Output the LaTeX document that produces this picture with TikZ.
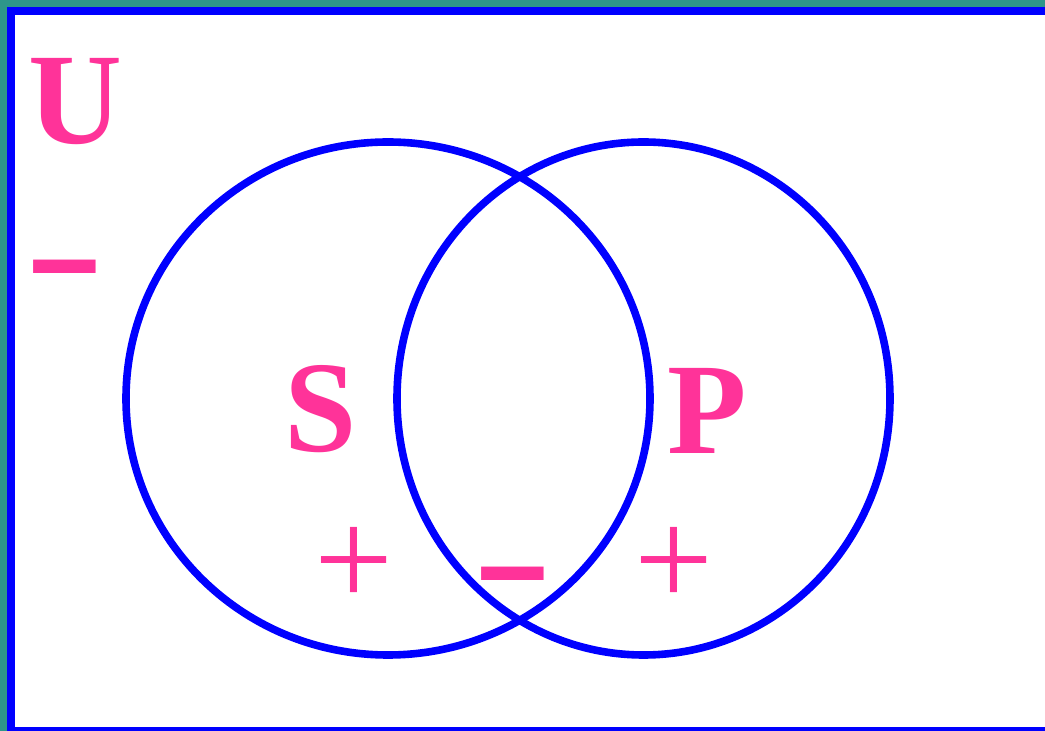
\documentclass[tikz,border=0pt]{standalone}
\usepackage{fontspec}
\setmainfont{Liberation Serif}
\usepackage{graphicx}
\usepackage{xcolor}
\usepackage{tikz}
\definecolor{teal}{HTML}{2E968A}
\definecolor{ringblue}{HTML}{0000FF}
\definecolor{pink}{HTML}{FF3399}

\begin{document}
\begin{tikzpicture}[x=0.5pt,y=-0.5pt,
  ring/.style={draw=ringblue,line width=3.8pt},
  setname/.style={text=pink,inner sep=0pt,anchor=north,font=\fontsize{65}{70}\selectfont\bfseries},
  plussign/.style={text=pink,inner sep=0pt,anchor=north,font=\fontsize{70}{74}\selectfont},
  minussign/.style={text=pink,inner sep=0pt,anchor=north,font=\fontsize{64}{70}\selectfont\bfseries}]
  \useasboundingbox (0,0) rectangle (1045,731);
  \clip (0,0) rectangle (1045,731);
  \fill[teal] (0,0) rectangle (1045,731);
  % universe
  \draw[draw=ringblue,line width=4pt,fill=white] (11,11) rectangle (1080,731);
  % the two sets
  \draw[ring] (388,398.5) ellipse [x radius=262,y radius=256.5];
  \draw[ring] (643.5,398.5) ellipse [x radius=246.5,y radius=256.5];
  % labels
  \node[setname] (U) at (75,58) {U};
  \node[setname] (S) at (321,365) {S};
  \node[setname] (P) at (707,368) {P};
  \node[minussign] (outside) at (64.5,260) {\scalebox{1.05}[1.5]{−}};
  \node[plussign] (sonly) at (354,527) {+};
  \node[minussign] (both) at (512.5,567) {\scalebox{1.05}[1.5]{−}};
  \node[plussign] (ponly) at (674,527) {+};
\end{tikzpicture}
\end{document}
